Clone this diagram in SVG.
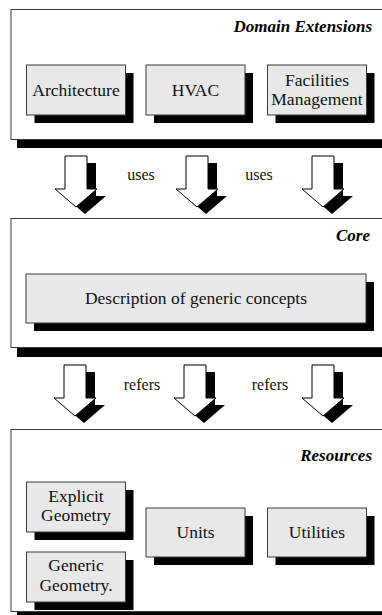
<svg xmlns="http://www.w3.org/2000/svg" xmlns:xlink="http://www.w3.org/1999/xlink" width="382" height="615" viewBox="0 0 382 615">
  <style>
    .layer { fill: #ffffff; stroke: #3a3a3a; stroke-width: 1; }
    .shadow { fill: #000000; }
    .box { fill: #e8e8e8; stroke: #3a3a3a; stroke-width: 1; }
    .label { font-size: 17.5px; fill: #111; text-anchor: middle; }
    .title { font-size: 17px; font-weight: bold; font-style: italic; fill: #000; text-anchor: end; }
    .rel { font-size: 16px; fill: #111; text-anchor: middle; }
    .arrow { fill: #ffffff; stroke: #000; stroke-width: 1; }
  </style>
  <defs>
    <!-- block arrow pointing down, origin at the middle of the top edge -->
    <path id="blockArrow" d="M-11,0 H11 V33 H21 L0,51 L-21,33 H-11 Z"/>
    <g id="shadedArrow">
      <use xlink:href="#blockArrow" class="shadow" transform="translate(9,7)"/>
      <use xlink:href="#blockArrow" class="arrow"/>
    </g>
  </defs>

  <rect width="382" height="615" fill="#ffffff"/>

  <g font-family="Liberation Serif, serif">
  <!-- Domain Extensions layer -->
  <g id="domain-extensions">
    <rect class="shadow" x="17" y="139" width="380" height="9"/>
    <rect class="layer" x="11" y="9.5" width="380" height="130"/>
    <text class="title" x="372" y="32">Domain Extensions</text>
  </g>
  <g id="architecture">
    <rect class="shadow" x="34.5" y="73" width="99" height="50"/>
    <rect class="box" x="26.5" y="65" width="99" height="50"/>
    <text class="label" x="76" y="96">Architecture</text>
  </g>
  <g id="hvac">
    <rect class="shadow" x="154" y="73" width="99" height="50"/>
    <rect class="box" x="146" y="65" width="99" height="50"/>
    <text class="label" x="195.5" y="96">HVAC</text>
  </g>
  <g id="facilities-management">
    <rect class="shadow" x="275.5" y="73" width="99" height="50"/>
    <rect class="box" x="267.5" y="65" width="99" height="50"/>
    <text class="label" x="317" y="86">Facilities</text>
    <text class="label" x="317" y="105">Management</text>
  </g>

  <!-- Core layer -->
  <g id="core">
    <rect class="shadow" x="17" y="347" width="380" height="10"/>
    <rect class="layer" x="11" y="218.5" width="380" height="129"/>
    <text class="title" x="370" y="241">Core</text>
  </g>
  <g id="generic-concepts">
    <rect class="shadow" x="34" y="282" width="340" height="49"/>
    <rect class="box" x="26" y="274" width="340" height="49"/>
    <text class="label" x="196" y="304">Description of generic concepts</text>
  </g>

  <!-- Resources layer -->
  <g id="resources">
    <rect class="shadow" x="17" y="612" width="380" height="9"/>
    <rect class="layer" x="11" y="429.5" width="380" height="182"/>
    <text class="title" x="372" y="461">Resources</text>
  </g>
  <g id="explicit-geometry">
    <rect class="shadow" x="34.5" y="490" width="99" height="50"/>
    <rect class="box" x="26.5" y="482" width="99" height="50"/>
    <text class="label" x="76" y="502">Explicit</text>
    <text class="label" x="76" y="521">Geometry</text>
  </g>
  <g id="generic-geometry">
    <rect class="shadow" x="34.5" y="560" width="99" height="50"/>
    <rect class="box" x="26.5" y="552" width="99" height="50"/>
    <text class="label" x="76" y="571">Generic</text>
    <text class="label" x="76" y="591">Geometry.</text>
  </g>
  <g id="units">
    <rect class="shadow" x="154" y="516" width="99" height="49"/>
    <rect class="box" x="146" y="508" width="99" height="49"/>
    <text class="label" x="195.5" y="538">Units</text>
  </g>
  <g id="utilities">
    <rect class="shadow" x="275.5" y="516" width="99" height="49"/>
    <rect class="box" x="267.5" y="508" width="99" height="49"/>
    <text class="label" x="317" y="538">Utilities</text>
  </g>

  <!-- connectors between layers -->
  <g id="connectors">
    <use xlink:href="#shadedArrow" transform="translate(76,156)"/>
    <use xlink:href="#shadedArrow" transform="translate(197,156)"/>
    <use xlink:href="#shadedArrow" transform="translate(323,156)"/>
    <text class="rel" x="141" y="180">uses</text>
    <text class="rel" x="259" y="180">uses</text>

    <use xlink:href="#shadedArrow" transform="translate(75,365)"/>
    <use xlink:href="#shadedArrow" transform="translate(195,365)"/>
    <use xlink:href="#shadedArrow" transform="translate(323,365)"/>
    <text class="rel" x="142" y="390">refers</text>
    <text class="rel" x="270" y="390">refers</text>
  </g>
  </g>
</svg>
